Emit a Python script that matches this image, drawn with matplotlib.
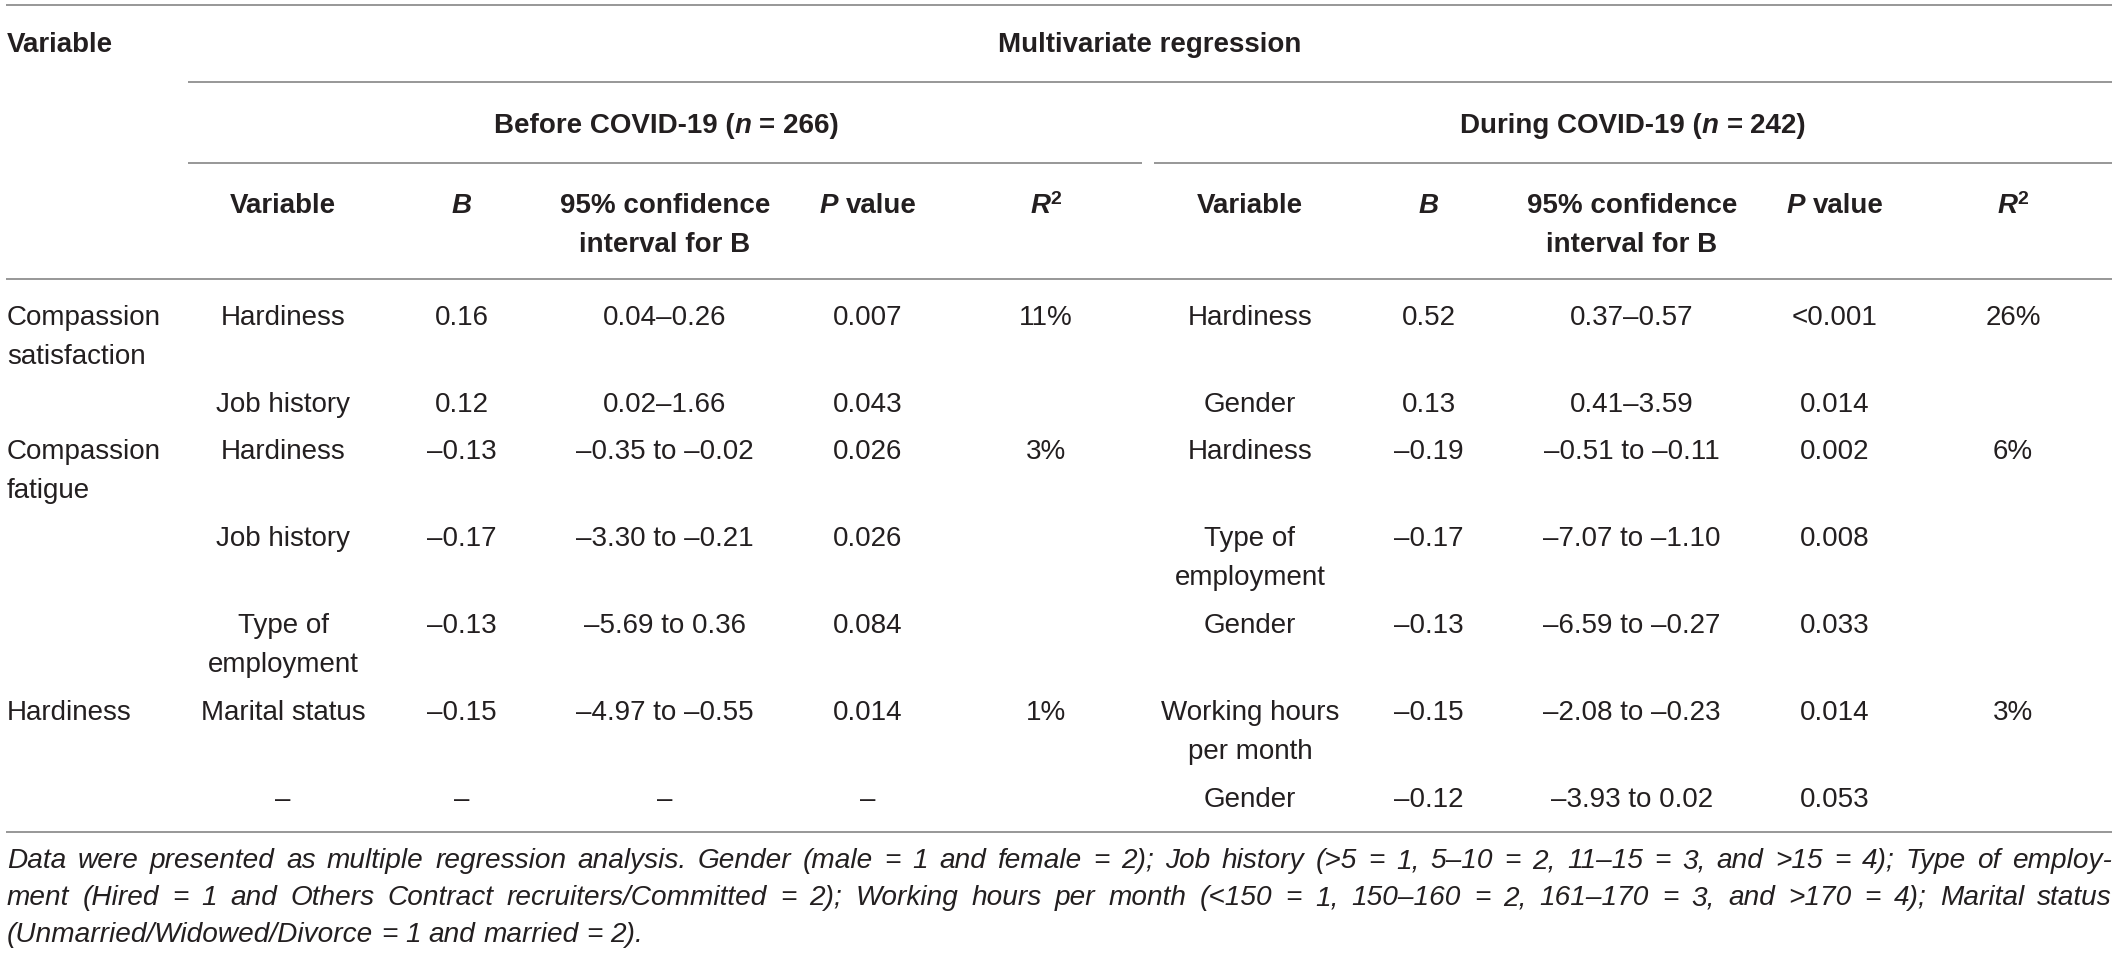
import matplotlib
matplotlib.use("Agg")
import matplotlib.pyplot as plt

plt.rcParams["font.family"] = ["Liberation Sans", "DejaVu Sans"]

# ============================================================
#  Table content
# ============================================================
outcome = ["Compassion\nsatisfaction", "", "Compassion\nfatigue", "", "", "Hardiness", ""]

before_var = ["Hardiness", "Job history", "Hardiness", "Job history", "Type of\nemployment",
              "Marital status", "–"]
before_b = ["0.16", "0.12", "–0.13", "–0.17", "–0.13", "–0.15", "–"]
before_ci = ["0.04–0.26", "0.02–1.66", "–0.35 to –0.02", "–3.30 to –0.21", "–5.69 to 0.36",
             "–4.97 to –0.55", "–"]
before_p = ["0.007", "0.043", "0.026", "0.026", "0.084", "0.014", "–"]
before_r2 = ["11%", "", "3%", "", "", "1%", ""]

during_var = ["Hardiness", "Gender", "Hardiness", "Type of\nemployment", "Gender",
              "Working hours\nper month", "Gender"]
during_b = ["0.52", "0.13", "–0.19", "–0.17", "–0.13", "–0.15", "–0.12"]
during_ci = ["0.37–0.57", "0.41–3.59", "–0.51 to –0.11", "–7.07 to –1.10", "–6.59 to –0.27",
             "–2.08 to –0.23", "–3.93 to 0.02"]
during_p = ["<0.001", "0.014", "0.002", "0.008", "0.033", "0.014", "0.053"]
during_r2 = ["26%", "", "6%", "", "", "3%", ""]

groups = [("Before COVID-19 (", "266)"), ("During COVID-19 (", "242)")]

footnote = [
    "Data were presented as multiple regression analysis. Gender (male = 1 and female = 2); "
    "Job history (>5 = 1, 5–10 = 2, 11–15 = 3, and >15 = 4); Type of employ-",
    "ment (Hired = 1 and Others Contract recruiters/Committed = 2); Working hours per month "
    "(<150 = 1, 150–160 = 2, 161–170 = 3, and >170 = 4); Marital status",
    "(Unmarried/Widowed/Divorce = 1 and married = 2).",
]

# ============================================================
#  Layout (pixel coordinates, y downwards)
# ============================================================
W, H = 2118, 955
TXT = "#231f20"
RULE = "#858585"
FS = 20.0
FS_NOTE = 20.2
LINE_H = 39
left_x = 7
right_x = 2112
col_x = [283, 462, 665, 868, 1046]
group_off = 967

fig = plt.figure(figsize=(W / 100, H / 100), dpi=100)
ax = fig.add_axes([0, 0, 1, 1])
ax.set_xlim(0, W)
ax.set_ylim(H, 0)
ax.axis("off")
renderer = fig.canvas.get_renderer()

REG = dict(fontsize=FS, color=TXT)
BOLD = dict(fontsize=FS, color=TXT, fontweight="bold")
BI = dict(fontsize=FS, color=TXT, fontweight="bold", style="italic")


def width(s, kw):
    t = ax.text(0, 0, s, **kw)
    w = t.get_window_extent(renderer).width
    t.remove()
    return w


def space_w(kw):
    return width("x x", kw) - width("xx", kw)


def runs(x, y, parts, ha="center"):
    # parts: (text, style, gap_before, dy)
    ws = [width(s, kw) for s, kw, g, dy in parts]
    total = sum(ws) + sum(g for s, kw, g, dy in parts)
    x0 = x - total / 2 if ha == "center" else x
    for (s, kw, g, dy), w in zip(parts, ws):
        x0 += g
        ax.text(x0, y + dy, s, ha="left", va="baseline", **kw)
        x0 += w


def rule(y, x0, x1):
    ax.plot([x0, x1], [y, y], color=RULE, lw=1.2, solid_capstyle="butt")


# rules
rule(5, 6, right_x)
rule(82, 188, right_x)
rule(163, 188, 1142)
rule(163, 1154, right_x)
rule(279, 6, right_x)
rule(832, 6, right_x)

# top headers
ax.text(left_x, 52, "Variable", ha="left", va="baseline", **BOLD)
ax.text(1150, 52, "Multivariate regression", ha="center", va="baseline", **BOLD)

sp_b = space_w(BOLD)
for gi, (pre, post) in enumerate(groups):
    cx = 665 + gi * group_off + 1
    runs(cx, 133, [(pre, BOLD, 0, 0), ("n", BI, 0, 0), ("=", BOLD, sp_b, 0),
                   (post, BOLD, sp_b, 0)])

# column headers
SUP = dict(fontsize=14, color=TXT, fontweight="bold")
for gi in range(2):
    off = gi * group_off
    ax.text(col_x[0] + off, 213, "Variable", ha="center", va="baseline", **BOLD)
    ax.text(col_x[1] + off, 213, "B", ha="center", va="baseline", **BI)
    ax.text(col_x[2] + off, 213, "95% confidence", ha="center", va="baseline", **BOLD)
    ax.text(col_x[2] + off, 213 + LINE_H, "interval for B", ha="center", va="baseline", **BOLD)
    runs(col_x[3] + off, 213, [("P", BI, 0, 0), ("value", BOLD, sp_b, 0)])
    runs(col_x[4] + off, 213, [("R", BI, 0, 0), ("2", SUP, 0, -9)])

# body rows
row_y = []
y = 325
for i in range(len(outcome)):
    row_y.append(y)
    n = max(len(c[i].split("\n")) for c in (outcome, before_var, during_var))
    y += n * LINE_H + (9 if n > 1 else 8)

before_cols = [before_var, before_b, before_ci, before_p, before_r2]
during_cols = [during_var, during_b, during_ci, during_p, during_r2]
for i, yb in enumerate(row_y):
    for k, line in enumerate(outcome[i].split("\n")):
        ax.text(left_x, yb + k * LINE_H, line, ha="left", va="baseline", **REG)
    for gi, cols in enumerate((before_cols, during_cols)):
        for ci, col in enumerate(cols):
            for k, line in enumerate(col[i].split("\n")):
                if line:
                    ax.text(col_x[ci] + gi * group_off, yb + k * LINE_H, line,
                            ha="center", va="baseline", **REG)

# footnote, justified like the journal layout
NOTE = dict(fontsize=FS_NOTE, color=TXT, style="italic")
note_sp = space_w(NOTE)
for li, line in enumerate(footnote):
    yb = 868 + li * 37
    words = line.split(" ")
    ws = [width(wd, NOTE) for wd in words]
    if li < len(footnote) - 1:
        gap = (right_x - left_x - sum(ws)) / (len(words) - 1)
    else:
        gap = note_sp
    x = left_x
    for wd, w in zip(words, ws):
        ax.text(x, yb, wd, ha="left", va="baseline", **NOTE)
        x += w + gap

fig.savefig("out.png", dpi=100)
